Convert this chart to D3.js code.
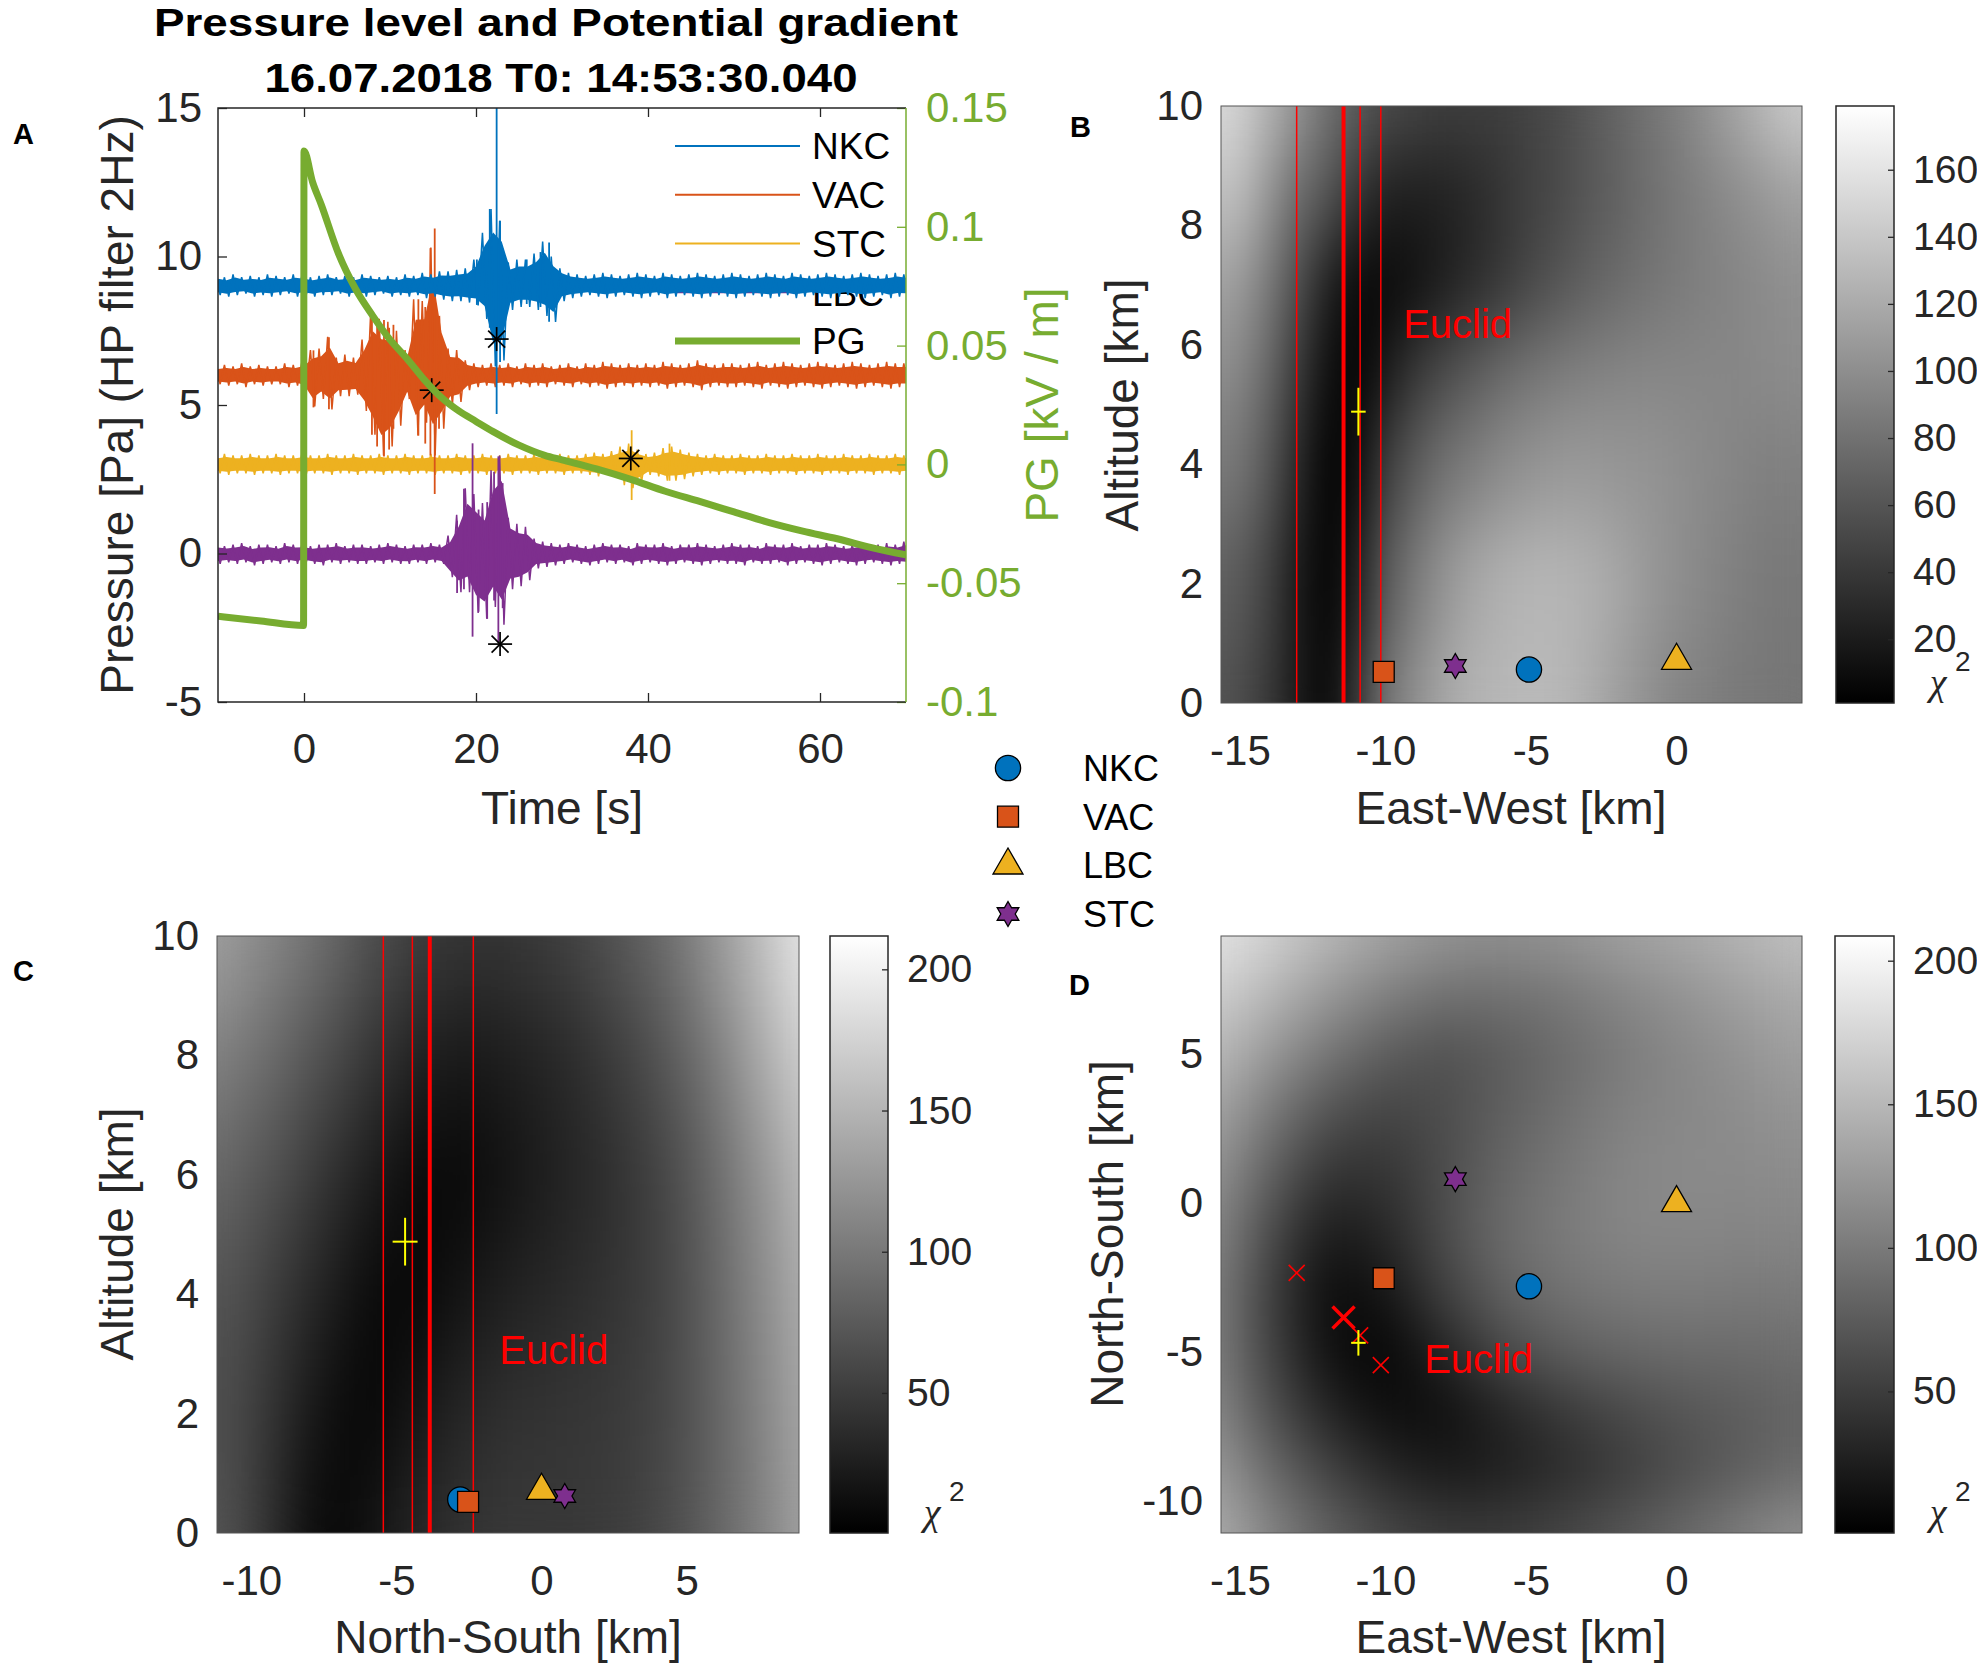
<!DOCTYPE html>
<html>
<head>
<meta charset="utf-8">
<script src="https://d3js.org/d3.v7.min.js"></script>
<style>
body { margin: 0; background: #fff; }
</style>
</head>
<body>
<script>
// ---------- panel A : pressure traces (envelope per 1 s bin) ----------
var tEnv = d3.range(-10, 71);

var nkcHi = [9.35,9.3,9.4,9.3,9.35,9.3,9.4,9.35,9.3,9.4,
  9.35,9.3,9.35,9.4,9.3,9.35,9.3,9.4,9.35,9.3,
  9.35,9.3,9.4,9.35,9.45,9.4,9.5,9.5,9.55,9.6,
  9.9,10.8,11.6,11.2,9.8,9.9,9.9,10.1,10.5,10.0,
  9.6,9.45,9.4,9.35,9.4,9.45,9.4,9.35,9.4,9.45,
  9.4,9.35,9.45,9.4,9.35,9.4,9.45,9.4,9.35,9.4,
  9.45,9.4,9.35,9.4,9.45,9.4,9.35,9.45,9.4,9.35,
  9.4,9.45,9.4,9.35,9.4,9.45,9.4,9.35,9.4,9.45,9.4];
var nkcLo = [8.7,8.65,8.7,8.75,8.65,8.7,8.65,8.7,8.75,8.65,
  8.7,8.65,8.7,8.7,8.75,8.65,8.7,8.65,8.7,8.75,
  8.65,8.7,8.65,8.7,8.6,8.65,8.55,8.5,8.5,8.45,
  8.35,7.9,6.3,6.5,8.2,8.3,8.3,8.2,8.0,7.8,
  8.5,8.6,8.65,8.7,8.65,8.6,8.65,8.7,8.65,8.6,
  8.65,8.7,8.6,8.65,8.7,8.65,8.6,8.65,8.7,8.65,
  8.6,8.65,8.7,8.65,8.6,8.65,8.7,8.6,8.65,8.7,
  8.65,8.6,8.65,8.7,8.65,8.6,8.65,8.7,8.6,8.65,8.65];

var vacHi = [6.3,6.35,6.3,6.4,6.3,6.35,6.3,6.3,6.4,6.35,
  6.45,6.85,6.9,7.3,6.6,6.7,6.6,7.2,8.1,7.9,
  7.8,7.5,6.85,8.56,8.5,10.3,8.0,6.9,6.85,6.5,
  6.4,6.35,6.4,6.35,6.4,6.3,6.4,6.35,6.4,6.3,
  6.35,6.4,6.3,6.4,6.35,6.45,6.4,6.35,6.4,6.35,
  6.4,6.35,6.45,6.4,6.35,6.4,6.5,6.4,6.35,6.4,
  6.4,6.35,6.4,6.45,6.35,6.4,6.45,6.4,6.35,6.4,
  6.45,6.4,6.35,6.4,6.45,6.4,6.35,6.4,6.45,6.4,6.4];
var vacLo = [5.7,5.65,5.7,5.6,5.7,5.65,5.7,5.7,5.6,5.65,
  5.55,4.95,5.2,4.85,5.3,5.3,5.35,4.8,4.0,3.3,
  3.6,4.3,5.2,3.97,4.4,3.3,4.2,5.0,5.1,5.5,
  5.6,5.65,5.6,5.65,5.6,5.7,5.6,5.65,5.6,5.7,
  5.65,5.6,5.7,5.6,5.65,5.55,5.6,5.65,5.6,5.65,
  5.6,5.65,5.55,5.6,5.65,5.6,5.5,5.6,5.65,5.6,
  5.6,5.65,5.6,5.55,5.65,5.6,5.55,5.6,5.65,5.6,
  5.55,5.6,5.65,5.6,5.55,5.6,5.65,5.6,5.55,5.6,5.6];

var stcHi = [3.3,3.35,3.3,3.3,3.35,3.3,3.3,3.35,3.3,3.3,
  3.35,3.3,3.3,3.35,3.3,3.3,3.35,3.3,3.3,3.35,
  3.3,3.3,3.35,3.3,3.3,3.35,3.3,3.3,3.35,3.3,
  3.3,3.35,3.3,3.3,3.35,3.3,3.3,3.35,3.3,3.3,
  3.35,3.3,3.3,3.35,3.4,3.35,3.45,3.6,3.7,3.5,
  3.35,3.4,3.55,3.6,3.5,3.4,3.35,3.3,3.35,3.3,
  3.3,3.35,3.3,3.3,3.35,3.3,3.3,3.35,3.3,3.3,
  3.35,3.3,3.3,3.35,3.3,3.3,3.35,3.3,3.3,3.35,3.3];
var stcLo = [2.7,2.65,2.7,2.7,2.65,2.7,2.7,2.65,2.7,2.7,
  2.65,2.7,2.7,2.65,2.7,2.7,2.65,2.7,2.7,2.65,
  2.7,2.7,2.65,2.7,2.7,2.65,2.7,2.7,2.65,2.7,
  2.7,2.65,2.7,2.7,2.65,2.7,2.7,2.65,2.7,2.7,
  2.65,2.7,2.7,2.65,2.6,2.65,2.55,2.3,2.2,2.4,
  2.65,2.6,2.45,2.45,2.5,2.6,2.65,2.7,2.65,2.7,
  2.7,2.65,2.7,2.7,2.65,2.7,2.7,2.65,2.7,2.7,
  2.65,2.7,2.7,2.65,2.7,2.7,2.65,2.7,2.7,2.65,2.7];

var lbcHi = [0.3,0.25,0.3,0.35,0.25,0.3,0.3,0.25,0.35,0.3,
  0.3,0.25,0.3,0.3,0.35,0.25,0.3,0.3,0.25,0.3,
  0.35,0.3,0.25,0.3,0.3,0.35,0.3,0.6,1.3,2.2,
  2.0,1.7,2.8,3.3,1.2,1.0,0.9,0.5,0.4,0.35,
  0.3,0.35,0.3,0.25,0.3,0.35,0.3,0.3,0.25,0.35,
  0.3,0.3,0.35,0.25,0.3,0.3,0.35,0.3,0.25,0.3,
  0.35,0.3,0.3,0.25,0.35,0.3,0.3,0.35,0.25,0.3,
  0.3,0.35,0.3,0.25,0.3,0.35,0.3,0.3,0.35,0.3,0.4];
var lbcLo = [-0.35,-0.3,-0.35,-0.3,-0.4,-0.35,-0.3,-0.35,-0.3,-0.35,
  -0.3,-0.35,-0.4,-0.3,-0.35,-0.3,-0.35,-0.35,-0.3,-0.35,
  -0.3,-0.35,-0.35,-0.3,-0.35,-0.3,-0.35,-0.8,-1.3,-1.3,
  -2.0,-2.2,-1.8,-2.4,-1.2,-1.1,-0.9,-0.5,-0.45,-0.4,
  -0.35,-0.3,-0.35,-0.4,-0.35,-0.3,-0.35,-0.3,-0.4,-0.35,
  -0.3,-0.35,-0.4,-0.35,-0.3,-0.35,-0.4,-0.35,-0.3,-0.35,
  -0.35,-0.4,-0.3,-0.35,-0.35,-0.3,-0.4,-0.35,-0.3,-0.35,
  -0.4,-0.35,-0.3,-0.35,-0.4,-0.35,-0.3,-0.35,-0.4,-0.35,-0.4];

// narrow spikes
var spikeStation = ["NKC","NKC","NKC","NKC","NKC","NKC","NKC",
  "VAC","VAC","VAC","VAC","VAC","VAC","VAC","VAC","VAC","VAC","VAC","VAC",
  "STC","STC",
  "LBC","LBC","LBC","LBC","LBC","LBC","LBC","LBC"];
var spikeT  = [22.4, 21.6, 22.8, 20.1, 25.9, 27.5, 28.5,
  15.2, 14.7, 13.3, 9.3, 7.9, 1.1, 2.9, 8.5, 9.9, 10.4, 14.1, 15.7,
  38.1, 42.5,
  19.6, 22.6, 18.6, 17.8, 20.3, 21.3, 22.1, 23.1];
var spikeLo = [4.7, 7.6, 6.45, 8.37, 8.4, 8.3, 7.8,
  2.0, 3.3, 3.97, 3.27, 4.0, 4.92, 4.86, 3.6, 3.5, 4.2, 3.7, 4.2,
  1.8, 2.45,
  -2.8, -3.0, -1.2, -1.33, -1.96, -2.2, -1.58, -1.84];
var spikeHi = [15.0, 11.6, 11.2, 9.9, 9.9, 10.15, 10.47,
  10.94, 10.28, 8.56, 7.86, 8.1, 6.84, 7.28, 7.9, 7.6, 7.7, 8.3, 8.0,
  4.15, 3.7,
  3.71, 3.27, 2.18, 1.1, 1.48, 1.73, 2.75, 2.37];

// picks (black asterisks)
var pickT = [22.4, 14.85, 38.0, 22.8];
var pickP = [7.22, 5.5, 3.2, -3.05];

// potential gradient (right axis)
var pgT = [-10, -5, -0.05, 0, 1, 2, 4, 6, 8, 10, 12, 14, 16, 18, 20, 22, 25, 28, 30, 34, 38, 42, 46, 50, 54, 58, 62, 66, 70];
var pgV = [-0.0639, -0.0659, -0.0678, 0.1319, 0.1188, 0.1094, 0.0888, 0.0738, 0.0625, 0.0525, 0.0444, 0.0356, 0.0281,
  0.0225, 0.0181, 0.0138, 0.0081, 0.0038, 0.0019, -0.0019, -0.0063, -0.0113, -0.0156, -0.02, -0.0244, -0.0281, -0.0313, -0.035, -0.0381];

var legendNames = ["NKC", "VAC", "STC", "LBC", "PG"];

// ---------- stations & solution ----------
var stations = ["NKC", "VAC", "LBC", "STC"];
var stEW  = [-5.07, -10.06, 0, -7.6];
var stNS  = [-2.8, -2.53, 0, 0.8];
var stAlt = [0.56, 0.52, 0.71, 0.62];

var euclidEW = [-13.05, -11.44, -10.87, -10.16];
var euclidNS = [-2.35, -3.85, -4.45, -5.45];
var euclidBold = [false, true, false, false];

var solEW = -10.93, solNS = -4.7, solAlt = 4.88;
var errEW = 0.25, errNS = 0.43, errAlt = 0.4;

// ---------- chi^2 fields ----------
var bEW = [-16,-15,-14,-13,-12,-11,-10,-9,-8,-7,-6,-5,-4,-3,-2,-1,0,1,2,3,4];
var bAlt = [10, 8.5, 7, 5.5, 4, 2, 0];
var bChi = [
  [156,146,126,104,81,66,54,49,45,45,45,49,54,63,72,81,90,103,117,130,143],
  [136,131,104,76,60,37,24,22,24,29,37,46,53,62,69,78,85,92,99,106,113],
  [115,108,85,54,24,8,8,13,22,31,40,51,60,69,76,81,86,90,94,97,101],
  [101,94,72,40,12,5,19,40,54,65,76,83,88,92,94,95,95,95,95,97,99],
  [86,81,60,28,5,10,44,65,81,90,99,104,108,108,106,104,101,97,94,90,90],
  [69,63,46,19,5,22,63,86,104,117,124,127,127,124,117,108,101,95,90,86,85],
  [60,54,40,19,8,37,81,101,117,126,129,131,129,122,111,102,94,90,86,85,83]
];
var bRange = [1, 179];

var cNS = [-11,-10,-9,-8,-7,-6,-5,-4,-3,-2,-1,0,1,2,3,4,5,6,7,8,9];
var cAlt = [10, 8, 6, 4, 2, 0];
var cChi = [
  [132,121,110,98,85,70,60,51,47,45,47,51,57,66,77,89,106,127,148,170,191],
  [106,96,85,72,60,47,36,26,22,22,26,30,36,45,55,68,85,104,127,151,170],
  [85,74,64,51,38,26,15,9,7,11,17,24,30,36,45,55,70,89,110,131,153],
  [68,60,47,34,22,11,7,9,15,22,28,32,36,41,47,55,68,85,104,123,142],
  [64,53,38,22,11,7,13,22,30,36,41,43,45,47,51,57,68,83,100,119,136],
  [68,53,32,13,9,15,26,34,41,45,47,47,47,49,53,60,70,83,98,115,132]
];
var cRange = [0.4, 211.8];

var dEW = [-16,-14,-12,-10,-8,-6,-4,-2,0,2,4];
var dNS = [9,7,5,3,1,-1,-3,-5,-7,-9,-11];
var dChi = [
  [188,171,150,134,121,117,121,130,138,146,157],
  [171,150,125,105,92,92,98,109,119,130,140],
  [155,125,96,76,67,76,88,100,111,119,130],
  [138,100,67,55,63,78,92,105,111,115,121],
  [125,80,42,42,63,84,98,109,113,113,115],
  [115,63,21,32,63,88,100,109,111,109,109],
  [109,53,9,17,53,80,94,100,103,100,100],
  [109,55,13,5,30,59,76,84,88,88,90],
  [117,67,30,11,13,30,46,59,69,76,82],
  [130,88,55,32,21,26,36,49,63,76,88],
  [146,109,80,59,49,49,57,69,84,100,117]
];
var dRange = [0.7, 208.6];

// ---------- styling ----------
var FONT = "'Liberation Sans', Arial, Helvetica, sans-serif";
var INK = "#262626";
var colors = {NKC: "#0072BD", VAC: "#D95319", STC: "#EDB120", LBC: "#7E2F8E", PG: "#77AC30"};
var markerColors = {NKC: "#0072BD", VAC: "#D95319", LBC: "#EDB120", STC: "#7E2F8E"};

var svg = d3.select("body").append("svg")
  .attr("width", 1977).attr("height", 1665)
  .style("font-family", FONT);
var defs = svg.append("defs");

function styleAxis(g, color, size) {
  g.attr("font-family", FONT).attr("font-size", size);
  g.select(".domain").remove();
  g.selectAll("line").attr("stroke", color).attr("stroke-width", 1.3);
  g.selectAll("text").attr("fill", color);
}
function plain(d) { return String(d); }

// ================= PANEL A =================
var xA = d3.scaleLinear().domain([-10, 70]).range([218, 906]);
var yA = d3.scaleLinear().domain([-5, 15]).range([702, 108]);
var yPG = d3.scaleLinear().domain([-0.1, 0.15]).range([702, 108]);

svg.append("text").attr("x", 556).attr("y", 36).attr("text-anchor", "middle")
  .attr("font-size", 38).attr("font-weight", "bold")
  .attr("textLength", 804).attr("lengthAdjust", "spacingAndGlyphs")
  .text("Pressure level and Potential gradient");
svg.append("text").attr("x", 561).attr("y", 92).attr("text-anchor", "middle")
  .attr("font-size", 41).attr("font-weight", "bold")
  .attr("textLength", 593).attr("lengthAdjust", "spacingAndGlyphs")
  .text("16.07.2018 T0: 14:53:30.040");

defs.append("clipPath").attr("id", "clipA").append("rect")
  .attr("x", 218).attr("y", 108).attr("width", 688).attr("height", 594);

// legend (drawn first: the traces run over it, as in the figure)
var legY = d3.scalePoint().domain(legendNames).range([146, 341]);
var leg = svg.append("g");
legendNames.forEach(function(n) {
  leg.append("line").attr("x1", 675).attr("x2", 800).attr("y1", legY(n)).attr("y2", legY(n))
    .attr("stroke", colors[n]).attr("stroke-width", n === "PG" ? 7 : 2);
  leg.append("text").attr("x", 812).attr("y", legY(n)).attr("dy", "0.36em")
    .attr("font-size", 37).attr("fill", "#000").text(n);
});

var gA = svg.append("g").attr("clip-path", "url(#clipA)");
var envelopes = {STC: [stcHi, stcLo], VAC: [vacHi, vacLo], NKC: [nkcHi, nkcLo], LBC: [lbcHi, lbcLo]};
["STC", "VAC", "NKC", "LBC"].forEach(function(n) {
  var hi = envelopes[n][0], lo = envelopes[n][1];
  var band = tEnv.map(function(t, i) { return {t: t, hi: hi[i], lo: lo[i]}; });
  // dense core of the noise band
  gA.append("path").datum(band)
    .attr("d", d3.area().x(function(d) { return xA(d.t); })
      .y0(function(d) { return yA((d.hi + d.lo) / 2 - 0.35 * (d.hi - d.lo)); })
      .y1(function(d) { return yA((d.hi + d.lo) / 2 + 0.35 * (d.hi - d.lo)); }))
    .attr("fill", colors[n]);
  // min / max of each bin as a zigzag
  var zz = [];
  band.forEach(function(d) { zz.push([d.t - 0.25, d.hi]); zz.push([d.t + 0.25, d.lo]); });
  gA.append("path").datum(zz)
    .attr("d", d3.line().x(function(d) { return xA(d[0]); }).y(function(d) { return yA(d[1]); }))
    .attr("fill", "none").attr("stroke", colors[n]).attr("stroke-width", 1.5);
  spikeT.forEach(function(t, i) {
    if (spikeStation[i] !== n) return;
    gA.append("line").attr("x1", xA(t)).attr("x2", xA(t))
      .attr("y1", yA(spikeLo[i])).attr("y2", yA(spikeHi[i]))
      .attr("stroke", colors[n]).attr("stroke-width", 1.8);
  });
});

// picks
pickT.forEach(function(t, i) {
  var g = gA.append("g").attr("transform", "translate(" + xA(t) + "," + yA(pickP[i]) + ")");
  [[-12, 0, 12, 0], [0, -12, 0, 12], [-8.5, -8.5, 8.5, 8.5], [-8.5, 8.5, 8.5, -8.5]].forEach(function(s) {
    g.append("line").attr("x1", s[0]).attr("y1", s[1]).attr("x2", s[2]).attr("y2", s[3])
      .attr("stroke", "#000").attr("stroke-width", 1.7);
  });
});

// PG curve
gA.append("path").datum(pgT.map(function(t, i) { return [t, pgV[i]]; }))
  .attr("d", d3.line().x(function(d) { return xA(d[0]); }).y(function(d) { return yPG(d[1]); })
    .curve(d3.curveMonotoneX))
  .attr("fill", "none").attr("stroke", colors.PG).attr("stroke-width", 7)
  .attr("stroke-linejoin", "round");

// axes A
var axB = svg.append("g").attr("transform", "translate(0,702)")
  .call(d3.axisBottom(xA).tickValues([0, 20, 40, 60]).tickSize(-9).tickPadding(31).tickFormat(plain));
styleAxis(axB, INK, 42);
var axT = svg.append("g").attr("transform", "translate(0,108)")
  .call(d3.axisTop(xA).tickValues([0, 20, 40, 60]).tickSize(-9).tickFormat(""));
styleAxis(axT, INK, 42);
var axL = svg.append("g").attr("transform", "translate(218,0)")
  .call(d3.axisLeft(yA).tickValues([-5, 0, 5, 10, 15]).tickSize(-9).tickPadding(16).tickFormat(plain));
styleAxis(axL, INK, 42);
var axR = svg.append("g").attr("transform", "translate(906,0)")
  .call(d3.axisRight(yPG).tickValues([-0.1, -0.05, 0, 0.05, 0.1, 0.15]).tickSize(-9).tickPadding(20).tickFormat(plain));
styleAxis(axR, colors.PG, 42);

svg.append("path").attr("d", "M906,108H218V702H906").attr("fill", "none").attr("stroke", INK).attr("stroke-width", 1.5);
svg.append("line").attr("x1", 906).attr("x2", 906).attr("y1", 108).attr("y2", 702)
  .attr("stroke", colors.PG).attr("stroke-width", 1.5);

function vLabel(x, y, txt, color) {
  svg.append("text").attr("transform", "translate(" + x + "," + y + ") rotate(-90)")
    .attr("text-anchor", "middle").attr("dy", "0.36em").attr("font-size", 46)
    .attr("fill", color || INK).text(txt);
}
function hLabel(x, y, txt) {
  svg.append("text").attr("x", x).attr("y", y).attr("text-anchor", "middle").attr("dy", "0.36em")
    .attr("font-size", 46).attr("fill", INK).text(txt);
}
vLabel(116, 405, "Pressure [Pa] (HP filter 2Hz)");
vLabel(1041, 405, "PG [kV / m]", colors.PG);
hLabel(562, 807, "Time [s]");

function letter(x, y, t) {
  svg.append("text").attr("x", x).attr("y", y).attr("font-size", 29).attr("font-weight", "bold")
    .attr("fill", "#000").text(t);
}
letter(13, 144, "A"); letter(1070, 137, "B"); letter(13, 981, "C"); letter(1069, 995, "D");

// ================= FIELD PANELS =================
function edges(c) {
  var e = [c[0] - (c[1] - c[0]) / 2];
  for (var i = 0; i < c.length - 1; i++) e.push((c[i] + c[i + 1]) / 2);
  e.push(c[c.length - 1] + (c[c.length - 1] - c[c.length - 2]) / 2);
  return e;
}

function hexagram(R) {
  var r = R / Math.sqrt(3), pts = [];
  for (var k = 0; k < 12; k++) {
    var a = Math.PI / 6 * k - Math.PI / 2, rr = k % 2 ? r : R;
    pts.push([rr * Math.cos(a), rr * Math.sin(a)]);
  }
  return "M" + pts.join("L") + "Z";
}
var shapes = {
  NKC: d3.symbol().type(d3.symbolCircle).size(500)(),
  VAC: d3.symbol().type(d3.symbolSquare).size(441)(),
  LBC: d3.symbol().type(d3.symbolTriangle).size(390)(),
  STC: hexagram(12.5)
};

function panel(id, box, xDom, yDom, xs, ys, vals, cRng, cbar, cTicks, xTicks, yTicks, blur) {
  var x = d3.scaleLinear().domain(xDom).range([box[0], box[1]]);
  var y = d3.scaleLinear().domain(yDom).range([box[3], box[2]]);
  var c = d3.scaleLinear().domain(cRng).range(["#000", "#fff"]).clamp(true);
  var w = box[1] - box[0], h = box[3] - box[2];

  defs.append("clipPath").attr("id", "clip" + id).append("rect")
    .attr("x", box[0]).attr("y", box[2]).attr("width", w).attr("height", h);
  var f = defs.append("filter").attr("id", "blur" + id).attr("filterUnits", "userSpaceOnUse")
    .attr("x", box[0]).attr("y", box[2]).attr("width", w).attr("height", h)
    .attr("color-interpolation-filters", "sRGB");
  f.append("feGaussianBlur").attr("stdDeviation", blur);
  f.append("feComponentTransfer").append("feFuncA").attr("type", "linear").attr("slope", 0).attr("intercept", 1);

  var xe = edges(xs), ye = edges(ys), cells = [];
  vals.forEach(function(row, j) { row.forEach(function(v, i) { cells.push({i: i, j: j, v: v}); }); });
  var g = svg.append("g").attr("clip-path", "url(#clip" + id + ")");
  g.append("g").attr("filter", "url(#blur" + id + ")")
    .selectAll("rect").data(cells).join("rect")
    .attr("x", function(d) { return Math.min(x(xe[d.i]), x(xe[d.i + 1])); })
    .attr("y", function(d) { return Math.min(y(ye[d.j]), y(ye[d.j + 1])); })
    .attr("width", function(d) { return Math.abs(x(xe[d.i + 1]) - x(xe[d.i])) + 0.6; })
    .attr("height", function(d) { return Math.abs(y(ye[d.j + 1]) - y(ye[d.j])) + 0.6; })
    .attr("fill", function(d) { return c(d.v); });

  svg.append("rect").attr("x", box[0]).attr("y", box[2]).attr("width", w).attr("height", h)
    .attr("fill", "none").attr("stroke", "#555").attr("stroke-width", 1);

  var ax = svg.append("g").attr("transform", "translate(0," + box[3] + ")")
    .call(d3.axisBottom(x).tickValues(xTicks).tickSize(0).tickPadding(32).tickFormat(plain));
  styleAxis(ax, INK, 42);
  var ay = svg.append("g").attr("transform", "translate(" + box[0] + ",0)")
    .call(d3.axisLeft(y).tickValues(yTicks).tickSize(0).tickPadding(18).tickFormat(plain));
  styleAxis(ay, INK, 42);

  // colorbar
  var gid = "grad" + id;
  var lg = defs.append("linearGradient").attr("id", gid).attr("x1", 0).attr("y1", 1).attr("x2", 0).attr("y2", 0);
  lg.append("stop").attr("offset", 0).attr("stop-color", "#000");
  lg.append("stop").attr("offset", 1).attr("stop-color", "#fff");
  svg.append("rect").attr("x", cbar[0]).attr("y", box[2]).attr("width", cbar[1] - cbar[0]).attr("height", h)
    .attr("fill", "url(#" + gid + ")").attr("stroke", INK).attr("stroke-width", 1.5);
  var cy = d3.scaleLinear().domain(cRng).range([box[3], box[2]]);
  var ac = svg.append("g").attr("transform", "translate(" + cbar[1] + ",0)")
    .call(d3.axisRight(cy).tickValues(cTicks).tickSize(-6).tickPadding(19).tickFormat(plain));
  styleAxis(ac, INK, 39);
  svg.append("text").attr("x", cbar[1] + 44).attr("y", box[3] - 8).attr("text-anchor", "middle")
    .attr("font-family", "'Liberation Serif', 'Times New Roman', serif").attr("font-style", "italic")
    .attr("font-size", 38).attr("fill", INK).text("\u03C7");
  svg.append("text").attr("x", cbar[1] + 61).attr("y", box[3] - 32)
    .attr("font-size", 28).attr("fill", INK).text("2");
  return {x: x, y: y, g: g};
}

function euclidLines(p, vals, dom) {
  vals.forEach(function(v, i) {
    p.g.append("line").attr("x1", p.x(v)).attr("x2", p.x(v))
      .attr("y1", p.y(dom[0])).attr("y2", p.y(dom[1]))
      .attr("stroke", "#FF0000").attr("stroke-width", euclidBold[i] ? 4 : 1.5);
  });
}
function solution(p, sx, sy, ex, ey) {
  p.g.append("line").attr("x1", p.x(sx - ex)).attr("x2", p.x(sx + ex)).attr("y1", p.y(sy)).attr("y2", p.y(sy))
    .attr("stroke", "#FFFF00").attr("stroke-width", 2);
  p.g.append("line").attr("x1", p.x(sx)).attr("x2", p.x(sx)).attr("y1", p.y(sy - ey)).attr("y2", p.y(sy + ey))
    .attr("stroke", "#FFFF00").attr("stroke-width", 2);
}
function stationMarks(p, xs, ys) {
  stations.forEach(function(n, i) {
    p.g.append("path").attr("d", shapes[n])
      .attr("transform", "translate(" + p.x(xs[i]) + "," + p.y(ys[i]) + ")")
      .attr("fill", markerColors[n]).attr("stroke", "#000").attr("stroke-width", 1.3);
  });
}
function euclidText(p, x, y) {
  svg.append("text").attr("x", p.x(x)).attr("y", p.y(y)).attr("dy", "0.36em").attr("text-anchor", "middle")
    .attr("font-size", 40).attr("fill", "#FF0000").text("Euclid");
}

// B : East-West vs altitude
var pB = panel("B", [1221, 1802, 106, 703], [-15.65, 4.31], [0, 10], bEW, bAlt, bChi, bRange,
  [1836, 1894], [20, 40, 60, 80, 100, 120, 140, 160], [-15, -10, -5, 0], [0, 2, 4, 6, 8, 10], "14 40");
euclidLines(pB, euclidEW, [0, 10]);
solution(pB, solEW, solAlt, errEW, errAlt);
stationMarks(pB, stEW, stAlt);
euclidText(pB, -7.52, 6.35);
vLabel(1121, 405, "Altitude [km]");
hLabel(1511, 807, "East-West [km]");

// C : North-South vs altitude
var pC = panel("C", [217, 799, 936, 1533], [-11.18, 8.87], [0, 10], cNS, cAlt, cChi, cRange,
  [830, 888], [50, 100, 150, 200], [-10, -5, 0, 5], [0, 2, 4, 6, 8, 10], "14 55");
euclidLines(pC, euclidNS, [0, 10]);
solution(pC, solNS, solAlt, errNS, errAlt);
stationMarks(pC, stNS, stAlt);
euclidText(pC, 0.42, 3.08);
vLabel(116, 1234, "Altitude [km]");
hLabel(508, 1636, "North-South [km]");

// D : East-West vs North-South
var pD = panel("D", [1221, 1802, 936, 1533], [-15.65, 4.31], [-11.09, 8.97], dEW, dNS, dChi, dRange,
  [1835, 1894], [50, 100, 150, 200], [-15, -10, -5, 0], [-10, -5, 0, 5], "28 28");
euclidEW.forEach(function(e, i) {
  var s = euclidBold[i] ? 11 : 8;
  var g = pD.g.append("g").attr("transform", "translate(" + pD.x(e) + "," + pD.y(euclidNS[i]) + ")");
  g.append("line").attr("x1", -s).attr("y1", -s).attr("x2", s).attr("y2", s);
  g.append("line").attr("x1", -s).attr("y1", s).attr("x2", s).attr("y2", -s);
  g.selectAll("line").attr("stroke", "#FF0000").attr("stroke-width", euclidBold[i] ? 3.5 : 1.6);
});
solution(pD, solEW, solNS, errEW, errNS);
stationMarks(pD, stEW, stNS);
euclidText(pD, -6.8, -5.22);
vLabel(1106, 1234, "North-South [km]");
hLabel(1511, 1636, "East-West [km]");

// station legend
var legS = d3.scalePoint().domain(["NKC", "VAC", "LBC", "STC"]).range([768, 914]);
legS.domain().forEach(function(n) {
  svg.append("path").attr("d", shapes[n]).attr("transform", "translate(1008," + legS(n) + ")")
    .attr("fill", markerColors[n]).attr("stroke", "#000").attr("stroke-width", 1.3);
  svg.append("text").attr("x", 1083).attr("y", legS(n)).attr("dy", "0.36em")
    .attr("font-size", 36).attr("fill", "#000").text(n);
});
</script>
</body>
</html>
